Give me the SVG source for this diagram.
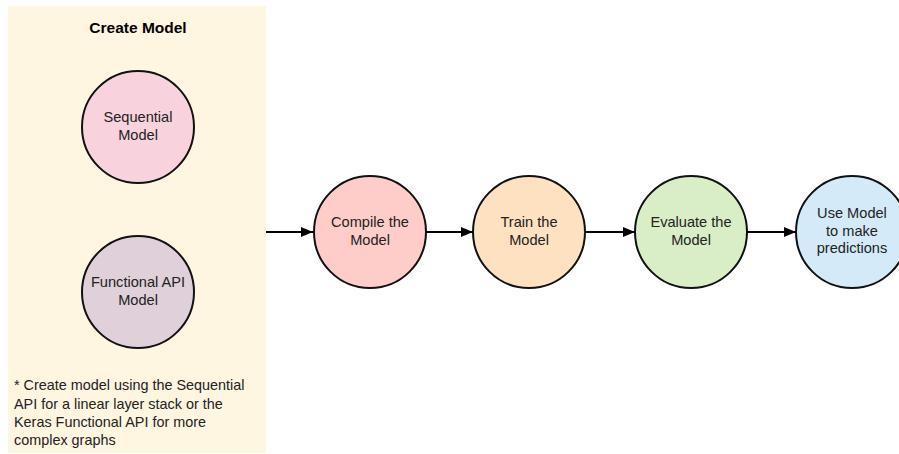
<svg xmlns="http://www.w3.org/2000/svg" width="899" height="454" viewBox="0 0 899 454">
  <defs>
    <marker id="arrow" viewBox="0 0 12 10" refX="12" refY="5" markerWidth="12" markerHeight="10" markerUnits="userSpaceOnUse" orient="auto">
      <path d="M0,0 L12,5 L0,10 Z" fill="#000"/>
    </marker>
  </defs>
  <style>
    text { font-family: "Liberation Sans", Arial, sans-serif; fill: #222; }
    .lbl { font-size: 14.6px; text-anchor: middle; }
    .title { font-size: 15.5px; font-weight: bold; text-anchor: middle; fill: #000; }
    .note { font-size: 14.4px; }
    .node { stroke: #111; stroke-width: 2; }
    .edge { stroke: #000; stroke-width: 2; fill: none; marker-end: url(#arrow); }
  </style>

  <rect x="0" y="0" width="899" height="454" fill="#ffffff"/>

  <!-- Create Model panel -->
  <g id="create-model">
    <rect x="8" y="6" width="258" height="447" fill="#fef6e1"/>
    <text class="title" x="138" y="33">Create Model</text>
    <text class="note">
      <tspan x="14" y="390">* Create model using the Sequential</tspan>
      <tspan x="14" y="408.5">API for a linear layer stack or the</tspan>
      <tspan x="14" y="427">Keras Functional API for more</tspan>
      <tspan x="14" y="445">complex graphs</tspan>
    </text>
  </g>

  <g id="sequential-model">
    <circle class="node" cx="138" cy="127" r="56" fill="#f8d3de"/>
    <text class="lbl" x="138" y="122">Sequential</text>
    <text class="lbl" x="138" y="139.5">Model</text>
  </g>

  <g id="functional-api-model">
    <circle class="node" cx="138" cy="292" r="56" fill="#dfd0d9"/>
    <text class="lbl" x="138" y="287">Functional API</text>
    <text class="lbl" x="138" y="304.5">Model</text>
  </g>

  <g id="compile">
    <circle class="node" cx="370" cy="232" r="56" fill="#ffcdc9"/>
    <text class="lbl" x="370" y="227">Compile the</text>
    <text class="lbl" x="370" y="244.5">Model</text>
  </g>

  <g id="train">
    <circle class="node" cx="529" cy="232" r="56" fill="#fee1c0"/>
    <text class="lbl" x="529" y="227">Train the</text>
    <text class="lbl" x="529" y="244.5">Model</text>
  </g>

  <g id="evaluate">
    <circle class="node" cx="691" cy="232" r="56" fill="#d9edc6"/>
    <text class="lbl" x="691" y="227">Evaluate the</text>
    <text class="lbl" x="691" y="244.5">Model</text>
  </g>

  <g id="predict">
    <circle class="node" cx="852" cy="232" r="56" fill="#d4eaf8"/>
    <text class="lbl" x="852" y="218">Use Model</text>
    <text class="lbl" x="852" y="235.5">to make</text>
    <text class="lbl" x="852" y="253">predictions</text>
  </g>

  <g id="connectors">
    <line class="edge" x1="266" y1="232" x2="313" y2="232"/>
    <line class="edge" x1="426" y1="232" x2="473" y2="232"/>
    <line class="edge" x1="585" y1="232" x2="635" y2="232"/>
    <line class="edge" x1="747" y1="232" x2="796" y2="232"/>
  </g>
</svg>
